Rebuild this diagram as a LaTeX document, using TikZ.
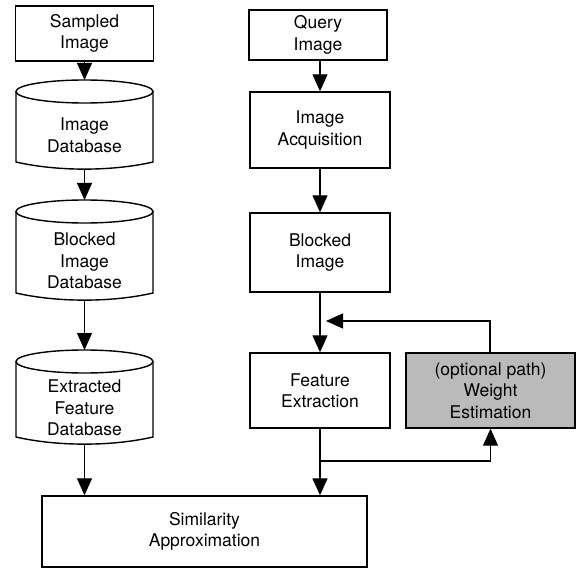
\documentclass[tikz,border=0pt]{standalone}
\usepackage{fontspec}
\setmainfont{TeX Gyre Heros}
\usetikzlibrary{arrows.meta}
\newcommand\mydb[6]{% name, x1, x2, ty, by, text
  \draw[shapeline] ({#2},{#4+11.5}) -- ({#2},{#5})
     .. controls ({#2+(#3-#2)*0.3},{#5+9.5}) and ({#3-(#3-#2)*0.3},{#5+9.5}) .. ({#3},{#5})
     -- ({#3},{#4+11.5});
  \draw[shapeline] ({(#2+#3)/2},{#4+11.5}) ellipse [x radius={(#3-#2)/2}, y radius=11.5];
  \coordinate (#1-top) at ({(#2+#3)/2},{#4});
  \coordinate (#1-bot) at ({(#2+#3)/2},{#5+7});
  \node[txt] (#1) at ({(#2+#3)/2},{(#4+23+#5)/2+3}) {#6};
}
\begin{document}
\begin{tikzpicture}[x=1pt,y=-1pt,
  shapeline/.style={line width=1.4pt},
  txt/.style={font=\fontsize{17.5}{21.5}\selectfont, align=center, inner sep=0pt},
  boxnode/.style={draw, line width=1.4pt, inner sep=0pt, align=center,
     font=\fontsize{17.5}{21.5}\selectfont},
  arr/.style={line width=1.3pt, -{Triangle[width=15pt,length=17pt]}},
  ln/.style={line width=1.3pt}]
\useasboundingbox (0,0) rectangle (580,569);

% left column
\node[boxnode, minimum width=138pt, minimum height=55pt] (samp) at (84.5,33.5) {Sampled\\Image};
\mydb{idb}{16}{153}{80}{162}{Image\\Database}
\mydb{bdb}{16}{153}{200}{293}{Blocked\\Image\\Database}
\mydb{edb}{16}{153}{350}{437}{Extracted\\Feature\\Database}

% right column
\node[boxnode, minimum width=138pt, minimum height=50pt] (query) at (318,35) {Query\\Image};
\node[boxnode, minimum width=140pt, minimum height=76pt] (acq) at (320,130) {Image\\Acquisition};
\node[boxnode, minimum width=140pt, minimum height=79pt] (blk) at (320,252.5) {Blocked\\Image};
\node[boxnode, minimum width=140pt, minimum height=75pt] (feat) at (320,390.5) {Feature\\Extraction};
\node[boxnode, minimum width=169pt, minimum height=75pt, fill=black!27] (wt) at (490.5,390.5) {(optional path)\\Weight\\Estimation};

% bottom
\node[boxnode, minimum width=325pt, minimum height=71pt] (sim) at (204.5,531.5) {Similarity\\Approximation};

% arrows left
\draw[arr] (samp.south) -- (idb-top);
\draw[arr] (idb-bot) -- (bdb-top);
\draw[arr] (bdb-bot) -- (edb-top);
\draw[arr] (edb-bot) -- (edb-bot |- sim.north);

% arrows right
\draw[arr] (query.south -| acq.north) -- (acq.north);
\draw[arr] (acq.south) -- (blk.north);
\draw[arr] (blk.south) -- (feat.north);
\draw[arr] (feat.south) -- (feat.south |- sim.north);
\coordinate (split) at (320,461);
\draw[arr] (split) -| (wt.south);
\coordinate (fbend) at (490,321);
\coordinate (ftip) at (326,321);
\draw[arr] (wt.north -| fbend) -- (fbend) -- (ftip);
\end{tikzpicture}
\end{document}
